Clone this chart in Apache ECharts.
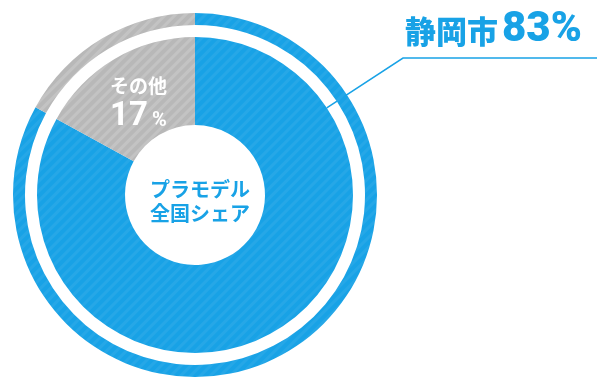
<!DOCTYPE html>
<html><head><meta charset="utf-8">
<script src="https://cdn.jsdelivr.net/npm/echarts@6/dist/echarts.min.js"></script>
<style>html,body{margin:0;padding:0;background:#fff}#c{width:597px;height:382px}</style>
</head><body><div id="c"></div>
<script>
const categories = ['静岡市', 'その他'];
const shares = [83, 17];
const centerTitle = 'プラモデル\n全国シェア';

const BLUE = '#18a2e6';
const GRAY = '#b8b8b8';
const CX = 195, CY = 195, R_OUT = 158;
const leaderAngle = 33.5 * Math.PI / 180;
const leaderStart = [CX + R_OUT * Math.cos(leaderAngle), CY - R_OUT * Math.sin(leaderAngle)];

const chart = echarts.init(document.getElementById('c'), null, {renderer: 'canvas'});
const stripe = (c) => ({symbol: 'rect', color: c, dashArrayX: [1, 0], dashArrayY: [3, 4], rotation: -Math.PI / 4, symbolSize: 1});

function mk(i, withLabels) {
  const isMain = i === 0;
  return {
    name: categories[i], value: shares[i],
    itemStyle: {color: isMain ? BLUE : GRAY, decal: stripe(isMain ? 'rgba(255,255,255,0.06)' : 'rgba(255,255,255,0.16)')},
    label: withLabels ? (isMain ? {show: false} : {
      show: true, position: 'inside',
      formatter: '{a|' + categories[1] + '}\n{b|' + shares[1] + '}{c|%}',
      rich: {
        a: {color: '#fff', fontSize: 19, fontWeight: 'bold', fontFamily: 'Noto Sans CJK JP', lineHeight: 28, align: 'center'},
        b: {color: '#fff', fontSize: 33, fontWeight: 'bold', fontFamily: 'Roboto', lineHeight: 34, verticalAlign: 'bottom'},
        c: {color: '#fff', fontSize: 20, fontWeight: 'bold', fontFamily: 'Roboto', lineHeight: 34, verticalAlign: 'bottom', padding: [0,0,2,4]}
      }
    }) : (isMain ? {
      show: true, position: 'outside',
      formatter: '{a|' + categories[0] + '}{b|' + shares[0] + '%}',
      rich: {
        a: {color: BLUE, fontSize: 31, fontWeight: 900, fontFamily: 'Noto Sans CJK JP', verticalAlign: 'bottom', lineHeight: 42},
        b: {color: BLUE, fontSize: 42, fontWeight: 900, fontFamily: 'Roboto', verticalAlign: 'bottom', lineHeight: 42, padding: [0,0,-4,4]}
      }
    } : {show: false}),
    labelLine: {show: !withLabels && isMain, lineStyle: {color: BLUE, width: 1.5}}
  };
}

chart.setOption({
  backgroundColor: '#fff',
  animation: false,
  title: {
    text: centerTitle, left: CX, top: CY + 1, textAlign: 'center', textVerticalAlign: 'middle',
    textStyle: {color: BLUE, fontSize: 20, fontWeight: 'bold', fontFamily: 'Noto Sans CJK JP', lineHeight: 24}
  },
  series: [
    {
      type: 'pie', center: [CX, CY], radius: [70, R_OUT], startAngle: 90, clockwise: true,
      silent: true, data: [mk(0, true), mk(1, true)],
      labelLayout: function (p) {
        if (p.dataIndex !== 1) return {};
        return {dx: 3, dy: 8};
      }
    },
    {
      type: 'pie', center: [CX, CY], radius: [170, 182], startAngle: 90, clockwise: true,
      silent: true, data: [mk(0, false), mk(1, false)],
      labelLayout: function (p) {
        if (p.dataIndex !== 0) return {};
        return {x: 405, y: 47, align: 'left', verticalAlign: 'bottom',
          labelLinePoints: [leaderStart, [403, 58], [597, 58]]};
      }
    }
  ]
});
</script></body></html>
